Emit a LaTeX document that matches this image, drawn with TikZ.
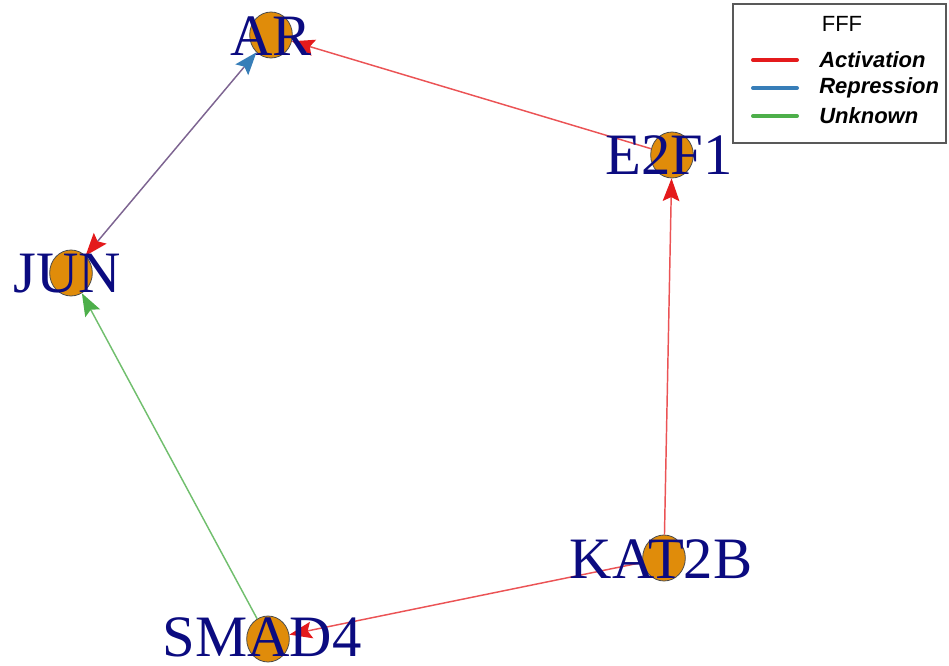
\documentclass[tikz,border=0pt]{standalone}
\usepackage{fontspec}
\setmainfont{Liberation Serif}
\newfontfamily\legfont{Liberation Sans}
\usetikzlibrary{arrows.meta,shapes.geometric}

\definecolor{actred}{HTML}{E41A1C}
\definecolor{repblue}{HTML}{377EB8}
\definecolor{unkgreen}{HTML}{4DAF4A}
\definecolor{genefill}{HTML}{E08C0A}
\definecolor{genetext}{HTML}{0B0B80}
\definecolor{mixline}{HTML}{7D6491}

\tikzset{
  gene/.style={ellipse, minimum width=32pt, minimum height=34.5pt, inner sep=0pt,
    fill=genefill, draw=black!70, line width=0.6pt},
  genelabel/.style={anchor=base, inner sep=0pt, text=genetext,
    font=\fontsize{44}{44}\selectfont},
  act/.style={draw=actred!75!white, line width=1.1pt, -{Stealth[length=17pt, width=12.5pt, inset=3pt, actred]}},
  unk/.style={draw=unkgreen!80!white, line width=1.1pt, -{Stealth[length=17pt, width=12.5pt, inset=3pt, unkgreen]}},
  legline/.style={line width=3pt, line cap=round},
  legtext/.style={anchor=west, inner sep=0pt, font=\legfont\bfseries\itshape\fontsize{16.5}{16.5}\selectfont}
}

\begin{document}
\begin{tikzpicture}[x=0.75pt, y=-0.75pt]
      \useasboundingbox (0,0) rectangle (949,666);

      % genes
      \node[gene] (ar) at (271,35) {};
      \node[gene] (e2f1) at (672,155) {};
      \node[gene] (jun) at (71,273) {};
      \node[gene] (kat2b) at (664,558) {};
      \node[gene] (smad4) at (268,639) {};

      % interactions
      \draw[act] (e2f1) -- (ar);
      \draw[act] (kat2b) -- (e2f1);
      \draw[act] (kat2b) -- (smad4);
      \draw[unk] (smad4) -- (jun);
      \draw[draw=mixline, line width=1.1pt,
        {Stealth[length=17pt, width=12.5pt, inset=3pt, actred]}-{Stealth[length=17pt, width=12.5pt, inset=3pt, repblue]}]
        (jun) -- (ar);

      % labels
      \node[genelabel] (ar-l) at (271,56) {AR};
      \node[genelabel] (e2f1-l) at (669,175) {E2F1};
      \node[genelabel] (jun-l) at (67,293) {JUN};
      \node[genelabel] (kat2b-l) at (661,578) {KAT2B};
      \node[genelabel] (smad4-l) at (262,656) {SMAD4};

      % legend
      \draw[black!65, line width=1pt] (733,4) rectangle (946,143);
      \node[font=\legfont\fontsize{16.5}{16.5}\selectfont] (leg-title) at (842,24) {FFF};
      \draw[legline, actred] (753,60) -- (797,60);
      \draw[legline, repblue] (753,88) -- (797,88);
      \draw[legline, unkgreen] (753,116) -- (797,116);
      \node[legtext] (leg-act) at (819,60) {Activation};
      \node[legtext] (leg-rep) at (819,88) {Repression};
      \node[legtext] (leg-unk) at (819,116) {Unknown};
    \end{tikzpicture}
\end{document}
